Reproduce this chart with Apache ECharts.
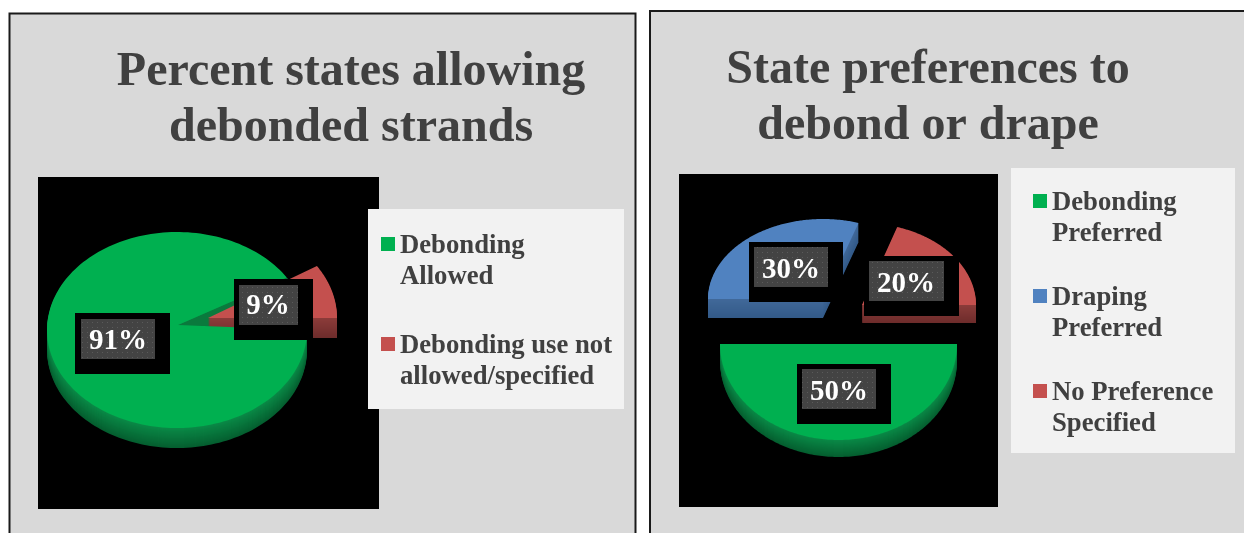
<!DOCTYPE html>
<html><head><meta charset="utf-8">
<style>html,body{margin:0;padding:0;background:#fff}#c{width:1244px;height:533px}</style>
<script src="https://cdn.jsdelivr.net/npm/echarts@6/dist/echarts.min.js"></script>
</head><body><div id="c"></div>
<script>
// ---- data ----
const leftTitle = ['Percent states allowing', 'debonded strands'];
const leftCategories = ['Debonding\nAllowed', 'Debonding use not\nallowed/specified'];
const leftValues = [91, 9];
const rightTitle = ['State preferences to', 'debond or drape'];
const rightCategories = ['Debonding\nPreferred', 'Draping\nPreferred', 'No Preference\nSpecified'];
const rightValues = [50, 30, 20];

// ---- palette ----
const GREEN = ['#00B050', '#0A8A47', '#055F30'];
const RED = ['#C4504E', '#8C3C3A', '#6E2C2B'];
const BLUE = ['#5082C0', '#41699A', '#335A88'];
const TEXT = '#404040';
const SERIF = '"Liberation Serif","Times New Roman",serif';

// ---- slice geometry: walk counter-clockwise from a start angle ----
function spans(values, startDeg) {
  let a = startDeg;
  return values.map(v => { const s = a; a += v * 3.6; return [s, a]; });
}
function slicePts(g, span, dy) {
  const pts = [[g.ax, g.ay + dy]];
  const n = 180;
  for (let i = 0; i <= n; i++) {
    const t = (span[0] + (span[1] - span[0]) * i / n) * Math.PI / 180;
    pts.push([g.cx + g.rx * Math.cos(t), g.cy - g.ry * Math.sin(t) + dy]);
  }
  return pts;
}
function mix(a, b, t) {
  const p = s => [1, 3, 5].map(i => parseInt(s.substr(i, 2), 16));
  const A = p(a), B = p(b);
  return 'rgb(' + A.map((x, i) => Math.round(x + (B[i] - x) * t)).join(',') + ')';
}
function wallEls(g, span, col) {
  const out = [];
  for (let d = g.depth; d >= 1; d--) {
    out.push({ type: 'polygon', shape: { points: slicePts(g, span, d) },
      style: { fill: mix(col[1], col[2], d / g.depth) } });
  }
  return out;
}
function topEl(g, span, col) {
  return { type: 'polygon', shape: { points: slicePts(g, span, 0) }, style: { fill: col[0] } };
}

const leftSpans = spans(leftValues, leftValues[1] * 3.6);
// going round the right pie: green, then red, then blue
const rSpan = spans([rightValues[0], rightValues[2], rightValues[1]], 180);

const LG = { cx: 177, cy: 330, ax: 178, ay: 325, rx: 130, ry: 98, depth: 20 };
const LR = { cx: 208, cy: 318, ax: 208, ay: 318, rx: 129, ry: 97, depth: 20 };
const RG = { cx: 838.5, cy: 344, ax: 838.5, ay: 344, rx: 118.5, ry: 96, depth: 17 };
const RB = { cx: 823, cy: 299, ax: 823, ay: 299, rx: 115, ry: 80, depth: 19 };
const RR = { cx: 862, cy: 305, ax: 862, ay: 305, rx: 114, ry: 82, depth: 18 };

const redSpanL = [leftSpans[1][0] - 360, leftSpans[1][1] - 360];
const steps = [
  () => wallEls(LG, leftSpans[0], GREEN),
  () => [{ type: 'polygon', shape: { points: slicePts(LG, redSpanL, 0) }, style: { fill: '#0A7A3D' } }],
  () => wallEls(LR, redSpanL, RED),
  () => [topEl(LR, redSpanL, RED)],
  () => [topEl(LG, leftSpans[0], GREEN)],
  () => wallEls(RB, rSpan[2], BLUE).concat(topEl(RB, rSpan[2], BLUE)),
  () => wallEls(RR, rSpan[1], RED).concat(topEl(RR, rSpan[1], RED)),
  () => wallEls(RG, rSpan[0], GREEN).concat(topEl(RG, rSpan[0], GREEN))
];

// ---- dotted label fill ----
const pc = document.createElement('canvas');
pc.width = 5; pc.height = 5;
const ctx = pc.getContext('2d');
ctx.fillStyle = '#434343'; ctx.fillRect(0, 0, 5, 5);
ctx.fillStyle = '#5A5A5A'; ctx.fillRect(2, 2, 1, 1);
const dotted = { image: pc, repeat: 'repeat' };

function rect(x0, y0, x1, y1, fill, z, extra) {
  return { type: 'rect', z, shape: { x: x0, y: y0, width: x1 - x0, height: y1 - y0 },
    style: Object.assign({ fill }, extra || {}), silent: true };
}
// y is the text's top edge
function text(str, x, y, size, fill, align, z) {
  return { type: 'text', z, x, y, silent: true,
    style: { text: str, fill, font: 'bold ' + size + 'px ' + SERIF, textAlign: align } };
}
function pctLabel(box, inner, cx, cy, v) {
  return [
    rect(box[0], box[1], box[2], box[3], '#000', 20),
    rect(inner[0], inner[1], inner[2], inner[3], dotted, 21),
    text(v + '%', cx, cy, 29, '#FFFFFF', 'center', 22)
  ];
}
function legend(x, markerX, rowsTop, cats, colors) {
  const out = [];
  cats.forEach((c, i) => {
    const lines = c.split('\n');
    out.push(rect(markerX, rowsTop[i] + 4, markerX + 14, rowsTop[i] + 18, colors[i], 22));
    lines.forEach((l, j) => out.push(text(l, x, rowsTop[i] + j * 31, 26.7, TEXT, 'left', 22)));
  });
  return out;
}

const graphics = [
  // panels
  rect(9.5, 13.5, 635.5, 560, '#D9D9D9', 0, { stroke: '#1a1a1a', lineWidth: 2 }),
  rect(650, 11, 1270, 560, '#D9D9D9', 0, { stroke: '#1a1a1a', lineWidth: 2 }),
  rect(38, 177, 379, 509, '#000', 1),
  rect(679, 174, 998, 507, '#000', 1),
  text(leftTitle[0], 351, 49, 48, TEXT, 'center', 22),
  text(leftTitle[1], 351, 105, 48, TEXT, 'center', 22),
  text(rightTitle[0], 928, 47, 48, TEXT, 'center', 22),
  text(rightTitle[1], 928, 103, 48, TEXT, 'center', 22),
  rect(368, 209, 624, 409, '#F2F2F2', 15),
  rect(1011, 168, 1235, 453, '#F2F2F2', 15),
  ...legend(400, 381, [233, 333], leftCategories, [GREEN[0], RED[0]]),
  ...legend(1052, 1033, [190, 285, 380], rightCategories, [GREEN[0], BLUE[0], RED[0]]),
  ...pctLabel([75, 313, 170, 374], [81, 319, 155, 359], 118, 327, leftValues[0]),
  ...pctLabel([234, 279, 313, 340], [239, 285, 298, 325], 268, 292, leftValues[1]),
  ...pctLabel([797, 364, 891, 424], [802, 369, 876, 409], 839, 378, rightValues[0]),
  ...pctLabel([749, 242, 843, 302], [754, 247, 828, 287], 791, 256, rightValues[1]),
  ...pctLabel([864, 256, 959, 316], [869, 261, 944, 301], 906, 270, rightValues[2])
];

const chart = echarts.init(document.getElementById('c'), null, { renderer: 'canvas' });
chart.setOption({
  animation: false,
  backgroundColor: '#FFFFFF',
  graphic: { elements: graphics },
  series: [{
    type: 'custom',
    coordinateSystem: 'none',
    silent: true,
    z: 5,
    data: steps.map((_, i) => i),
    renderItem: (params) => ({ type: 'group', children: steps[params.dataIndex]() })
  }]
});
</script></body></html>
